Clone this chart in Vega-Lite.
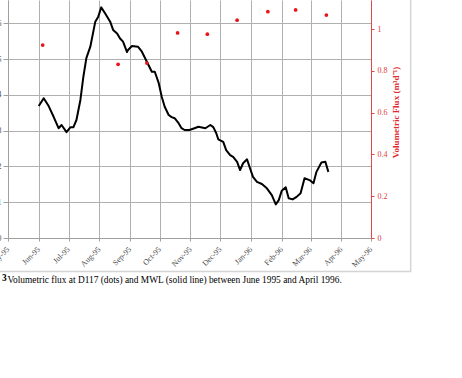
{
  "$schema": "https://vega.github.io/schema/vega-lite/v6.json",
  "width": 363,
  "height": 238,
  "autosize": {"type": "none"},
  "padding": {"left": 8, "top": 0, "right": 91, "bottom": 140},
  "background": "white",
  "config": {
    "view": {"stroke": null},
    "font": "Liberation Serif",
    "axis": {"labelOverlap": false},
    "axisX": {
      "labelOverlap": false,
      "labelSeparation": -40,
      "format": "%b-%y",
      "formatType": "utc",
      "labelAngle": -45,
      "labelAlign": "right",
      "labelBaseline": "middle",
      "labelFont": "Liberation Serif",
      "labelFontSize": 8,
      "labelColor": "#505050",
      "labelPadding": 7,
      "labelFlush": false,
      "tickSize": 3,
      "tickColor": "#a0a0a0",
      "domainColor": "#a0a0a0",
      "grid": true,
      "gridColor": "#b0b0b0",
      "gridWidth": 1,
      "titleFont": "Liberation Serif",
      "titleFontSize": 9.4,
      "titleFontWeight": "normal",
      "titleColor": "black",
      "titleX": -1,
      "titleY": 44,
      "titleAlign": "left",
      "titleBaseline": "alphabetic"
    }
  },
  "title": {
    "text": "3",
    "orient": "bottom",
    "anchor": "start",
    "frame": "group",
    "font": "Liberation Serif",
    "fontSize": 9.4,
    "fontWeight": "bold",
    "color": "black",
    "baseline": "alphabetic",
    "offset": 0,
    "dx": -6,
    "dy": -2.5
  },
  "datasets": {
    "mwl": [
      {"date": "1995-06-01", "mwl": 3.69},
      {"date": "1995-06-06", "mwl": 3.91},
      {"date": "1995-06-11", "mwl": 3.69},
      {"date": "1995-06-16", "mwl": 3.39},
      {"date": "1995-06-21", "mwl": 3.07},
      {"date": "1995-06-24", "mwl": 3.16},
      {"date": "1995-06-29", "mwl": 2.96},
      {"date": "1995-07-03", "mwl": 3.10},
      {"date": "1995-07-06", "mwl": 3.10},
      {"date": "1995-07-09", "mwl": 3.30},
      {"date": "1995-07-13", "mwl": 3.86},
      {"date": "1995-07-16", "mwl": 4.51},
      {"date": "1995-07-19", "mwl": 5.03},
      {"date": "1995-07-23", "mwl": 5.35},
      {"date": "1995-07-24", "mwl": 5.49},
      {"date": "1995-07-28", "mwl": 6.05},
      {"date": "1995-07-31", "mwl": 6.19},
      {"date": "1995-08-03", "mwl": 6.45},
      {"date": "1995-08-07", "mwl": 6.28},
      {"date": "1995-08-12", "mwl": 6.05},
      {"date": "1995-08-15", "mwl": 5.82},
      {"date": "1995-08-19", "mwl": 5.72},
      {"date": "1995-08-22", "mwl": 5.58},
      {"date": "1995-08-25", "mwl": 5.49},
      {"date": "1995-08-29", "mwl": 5.20},
      {"date": "1995-08-30", "mwl": 5.26},
      {"date": "1995-09-03", "mwl": 5.37},
      {"date": "1995-09-09", "mwl": 5.35},
      {"date": "1995-09-13", "mwl": 5.21},
      {"date": "1995-09-18", "mwl": 4.93},
      {"date": "1995-09-23", "mwl": 4.65},
      {"date": "1995-09-26", "mwl": 4.65},
      {"date": "1995-09-30", "mwl": 4.33},
      {"date": "1995-10-03", "mwl": 3.95},
      {"date": "1995-10-06", "mwl": 3.67},
      {"date": "1995-10-10", "mwl": 3.44},
      {"date": "1995-10-13", "mwl": 3.38},
      {"date": "1995-10-16", "mwl": 3.35},
      {"date": "1995-10-20", "mwl": 3.21},
      {"date": "1995-10-23", "mwl": 3.07},
      {"date": "1995-10-26", "mwl": 3.02},
      {"date": "1995-10-31", "mwl": 3.02},
      {"date": "1995-11-05", "mwl": 3.07},
      {"date": "1995-11-09", "mwl": 3.11},
      {"date": "1995-11-16", "mwl": 3.07},
      {"date": "1995-11-21", "mwl": 3.16},
      {"date": "1995-11-24", "mwl": 3.10},
      {"date": "1995-11-27", "mwl": 2.93},
      {"date": "1995-11-29", "mwl": 2.76},
      {"date": "1995-12-04", "mwl": 2.69},
      {"date": "1995-12-07", "mwl": 2.46},
      {"date": "1995-12-11", "mwl": 2.32},
      {"date": "1995-12-14", "mwl": 2.27},
      {"date": "1995-12-18", "mwl": 2.13},
      {"date": "1995-12-21", "mwl": 1.90},
      {"date": "1995-12-24", "mwl": 2.09},
      {"date": "1995-12-28", "mwl": 2.20},
      {"date": "1995-12-31", "mwl": 1.95},
      {"date": "1996-01-03", "mwl": 1.71},
      {"date": "1996-01-07", "mwl": 1.57},
      {"date": "1996-01-12", "mwl": 1.51},
      {"date": "1996-01-17", "mwl": 1.39},
      {"date": "1996-01-22", "mwl": 1.20},
      {"date": "1996-01-26", "mwl": 0.94},
      {"date": "1996-01-29", "mwl": 1.06},
      {"date": "1996-02-01", "mwl": 1.32},
      {"date": "1996-02-05", "mwl": 1.42},
      {"date": "1996-02-08", "mwl": 1.11},
      {"date": "1996-02-12", "mwl": 1.08},
      {"date": "1996-02-16", "mwl": 1.15},
      {"date": "1996-02-20", "mwl": 1.25},
      {"date": "1996-02-24", "mwl": 1.67},
      {"date": "1996-02-29", "mwl": 1.62},
      {"date": "1996-03-04", "mwl": 1.53},
      {"date": "1996-03-07", "mwl": 1.85},
      {"date": "1996-03-12", "mwl": 2.11},
      {"date": "1996-03-16", "mwl": 2.13},
      {"date": "1996-03-19", "mwl": 1.85}
    ],
    "flux": [
      {"date": "1995-06-05", "flux": 0.923},
      {"date": "1995-08-20", "flux": 0.831},
      {"date": "1995-09-18", "flux": 0.837},
      {"date": "1995-10-19", "flux": 0.981},
      {"date": "1995-11-18", "flux": 0.975},
      {"date": "1995-12-18", "flux": 1.042},
      {"date": "1996-01-18", "flux": 1.083},
      {"date": "1996-02-15", "flux": 1.091},
      {"date": "1996-03-17", "flux": 1.067}
    ]
  },
  "layer": [
    {
      "data": {"values": [{}]},
      "mark": {"type": "rect", "fill": "transparent", "stroke": "#d4d4d4", "strokeWidth": 1.5},
      "encoding": {
        "x": {
          "datum": {"year": 1995, "month": 4, "date": 1, "utc": true},
          "type": "temporal",
          "axis": {"tickCount": {"interval": "month", "step": 1}, "labelOverlap": false, "title": "Volumetric flux at D117 (dots) and MWL (solid line) between June 1995 and April 1996."}
        },
        "x2": {"datum": {"year": 1996, "month": 6, "date": 10, "utc": true}},
        "y": {
          "datum": -0.16,
          "type": "quantitative",
          "scale": {"domain": [0, 1.1388], "nice": false, "zero": false},
          "axis": null
        },
        "y2": {"datum": 1.3}
      }
    },
    {
      "data": {"name": "mwl"},
      "mark": {"type": "line", "color": "black", "strokeWidth": 2, "strokeJoin": "round"},
      "encoding": {
        "x": {
          "field": "date",
          "type": "temporal",
          "scale": {
            "type": "utc",
            "domain": [
              {"year": 1995, "month": 5, "date": 1, "utc": true},
              {"year": 1996, "month": 5, "date": 1, "utc": true}
            ]
          },
          "axis": {"tickCount": {"interval": "month", "step": 1}, "labelOverlap": false, "title": "Volumetric flux at D117 (dots) and MWL (solid line) between June 1995 and April 1996."}
        },
        "y": {
          "field": "mwl",
          "type": "quantitative",
          "scale": {"domain": [0, 6.656], "nice": false, "zero": false},
          "axis": {
            "orient": "left",
            "values": [0, 1, 2, 3, 4, 5, 6],
            "grid": true,
            "gridColor": "#b0b0b0",
            "domainColor": "#a0a0a0",
            "tickColor": "#a0a0a0",
            "tickSize": 5,
            "labelFont": "Liberation Serif",
            "labelFontSize": 8,
            "labelColor": "#505050",
            "title": "MWL (m)",
            "titleFont": "Liberation Serif",
            "titleColor": "#505050"
          }
        }
      }
    },
    {
      "data": {"name": "flux"},
      "mark": {"type": "circle", "color": "#e8141c", "size": 14, "opacity": 1},
      "encoding": {
        "x": {
          "field": "date",
          "type": "temporal",
          "axis": {"tickCount": {"interval": "month", "step": 1}, "labelOverlap": false, "title": "Volumetric flux at D117 (dots) and MWL (solid line) between June 1995 and April 1996."}
        },
        "y": {
          "field": "flux",
          "type": "quantitative",
          "scale": {"domain": [0, 1.1388], "nice": false, "zero": false},
          "axis": {
            "orient": "right",
            "values": [0, 0.2, 0.4, 0.6, 0.8, 1],
            "format": ".1~f",
            "grid": false,
            "domainColor": "#e04848",
            "tickColor": "#e04848",
            "tickSize": 3,
            "labelColor": "#e03c3c",
            "labelFont": "Liberation Serif",
            "labelFontSize": 8,
            "labelPadding": 3,
            "title": "Volumetric Flux (m³d⁻¹)",
            "titleColor": "#e0282d",
            "titleFont": "Liberation Serif",
            "titleFontSize": 9,
            "titleFontWeight": "bold",
            "titleAngle": 270,
            "titleX": 24,
            "titleY": 112,
            "titleAlign": "center",
            "titleBaseline": "middle"
          }
        }
      }
    }
  ],
  "resolve": {"scale": {"y": "independent"}}
}
